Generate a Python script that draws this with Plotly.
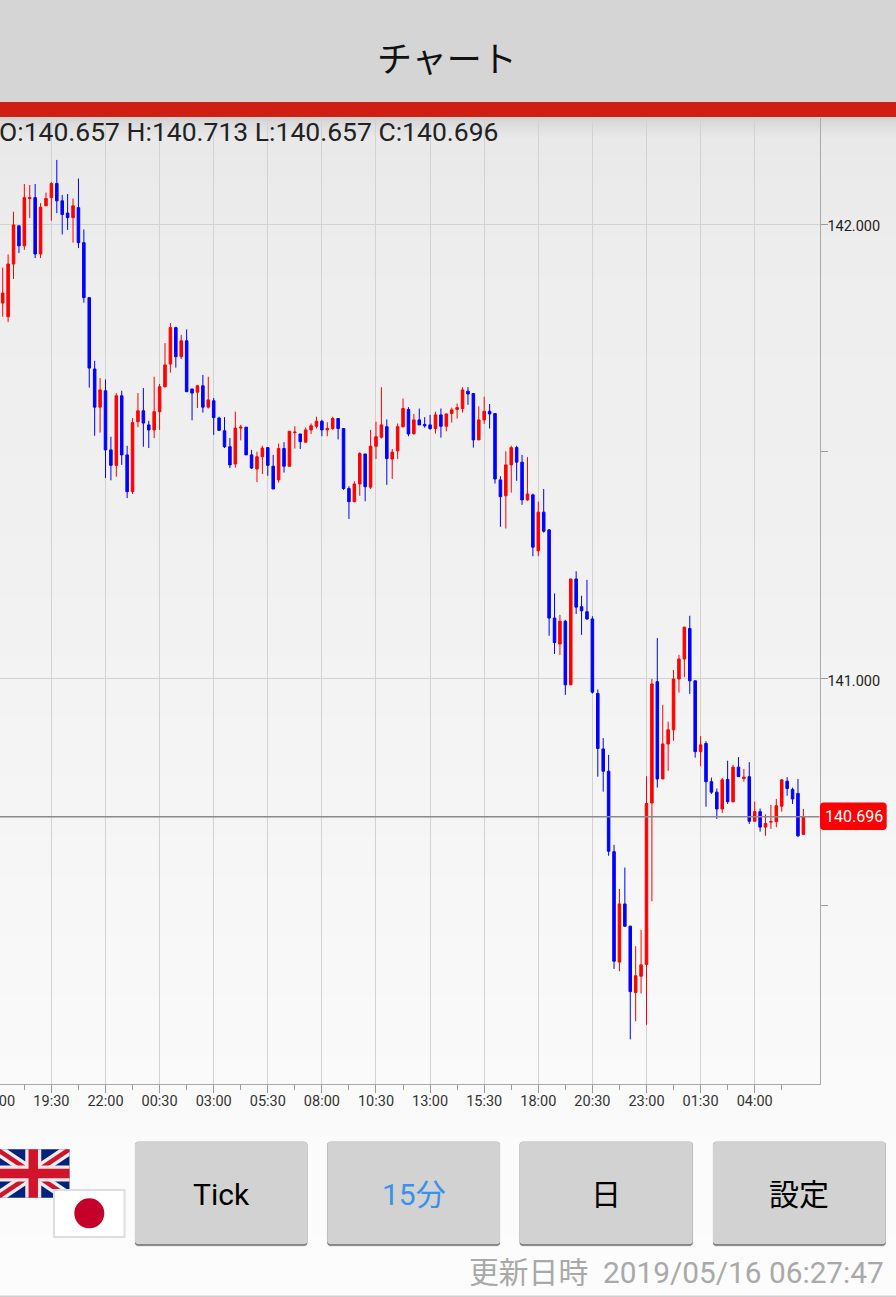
import plotly.graph_objects as go

W, H = 896, 1297
opens = [141.826,141.796,141.912,141.996,141.952,142.056,142.058,141.934,142.040,142.058,
142.089,142.051,142.024,142.014,142.036,141.959,141.838,141.681,141.597,141.633,
141.503,141.469,141.622,141.492,141.411,141.565,141.589,141.558,141.547,141.587,
141.642,141.692,141.772,141.708,141.743,141.637,141.630,141.644,141.597,141.611,
141.573,141.545,141.510,141.472,141.551,141.553,141.492,141.461,141.488,141.508,
141.467,141.437,141.506,141.467,141.541,141.538,141.520,141.547,141.555,141.566,
141.547,141.550,141.572,141.550,141.418,141.389,141.428,141.494,141.421,141.511,
141.531,141.554,141.483,141.501,141.554,141.592,141.539,141.569,141.559,141.558,
141.550,141.580,141.555,141.583,141.592,141.594,141.632,141.627,141.525,141.569,
141.588,141.583,141.437,141.402,141.470,141.508,141.476,141.393,141.404,141.281,
141.366,141.327,141.133,141.076,141.126,140.986,141.219,141.158,141.147,141.131,
140.967,140.845,140.796,140.619,140.376,140.504,140.455,140.309,140.345,140.371,
140.726,140.993,140.779,140.856,140.887,140.999,141.043,141.110,140.995,140.839,
140.857,140.773,140.750,140.713,140.778,140.729,140.805,140.780,140.784,140.686,
140.707,140.673,140.684,140.685,140.719,140.774,140.756,140.747,140.657]
highs = [141.904,141.933,142.027,141.996,142.088,142.086,142.088,142.046,142.069,142.092,
142.141,142.064,142.066,142.056,142.100,141.988,141.838,141.699,141.661,141.658,
141.532,141.628,141.633,141.512,141.573,141.628,141.639,141.567,141.664,141.648,
141.738,141.782,141.774,141.756,141.768,141.637,141.646,141.668,141.664,141.617,
141.576,141.575,141.529,141.587,141.558,141.553,141.503,141.499,141.512,141.508,
141.492,141.517,141.520,141.544,141.555,141.538,141.552,141.561,141.576,141.569,
141.564,141.576,141.572,141.550,141.423,141.434,141.498,141.494,141.547,141.565,
141.641,141.570,141.505,141.561,141.616,141.597,141.582,141.594,141.575,141.580,
141.587,141.594,141.583,141.596,141.605,141.641,141.641,141.627,141.599,141.620,
141.604,141.583,141.445,141.500,141.512,141.512,141.492,141.487,141.407,141.389,
141.417,141.329,141.187,141.140,141.129,141.219,141.236,141.182,141.217,141.137,
140.976,140.869,140.832,140.634,140.537,140.584,140.456,140.411,140.447,140.785,
140.999,141.089,140.942,140.905,141.019,141.052,141.114,141.138,140.995,140.873,
140.862,140.782,140.758,140.781,140.819,140.810,140.827,140.801,140.816,140.729,
140.714,140.701,140.722,140.735,140.778,140.783,140.760,140.779,140.713]
lows = [141.796,141.784,141.879,141.936,141.943,142.013,141.925,141.925,142.040,142.007,
142.024,141.977,141.987,141.959,141.947,141.827,141.640,141.534,141.541,141.441,
141.436,141.444,141.470,141.397,141.406,141.553,141.510,141.507,141.529,141.547,
141.640,141.673,141.684,141.703,141.631,141.568,141.595,141.585,141.594,141.536,
141.546,141.507,141.463,141.464,141.524,141.492,141.461,141.432,141.450,141.446,
141.417,141.431,141.453,141.467,141.506,141.505,141.519,141.538,141.550,141.533,
141.533,141.547,141.526,141.415,141.351,141.388,141.402,141.390,141.417,141.483,
141.528,141.426,141.439,141.483,141.552,141.533,141.536,141.558,141.552,141.547,
141.539,141.530,141.544,141.563,141.572,141.585,141.602,141.508,141.525,141.560,
141.550,141.429,141.334,141.330,141.409,141.435,141.382,141.391,141.269,141.269,
141.321,141.094,141.054,141.052,140.964,140.986,141.142,141.096,141.129,140.967,
140.784,140.751,140.610,140.361,140.356,140.454,140.206,140.246,140.307,140.238,
140.510,140.760,140.779,140.797,140.863,140.969,141.003,140.966,140.826,140.807,
140.718,140.746,140.691,140.704,140.724,140.727,140.784,140.773,140.680,140.685,
140.663,140.654,140.669,140.673,140.707,140.742,140.724,140.651,140.657]
closes = [141.848,141.912,141.998,141.952,142.058,142.058,141.934,142.037,142.056,142.089,
142.051,142.021,142.014,142.040,141.959,141.838,141.683,141.597,141.635,141.503,
141.469,141.622,141.492,141.411,141.563,141.589,141.562,141.547,141.587,141.642,
141.690,141.772,141.708,141.743,141.631,141.628,141.644,141.597,141.613,141.574,
141.546,141.510,141.470,141.551,141.553,141.492,141.463,141.488,141.507,141.469,
141.417,141.506,141.467,141.544,141.542,141.521,141.547,141.556,141.566,141.547,
141.550,141.572,141.550,141.418,141.389,141.428,141.495,141.422,141.511,141.532,
141.558,141.484,141.498,141.554,141.594,141.538,141.569,141.558,141.556,141.550,
141.580,141.555,141.582,141.591,141.596,141.635,141.626,141.525,141.569,141.588,
141.582,141.439,141.400,141.470,141.508,141.476,141.393,141.406,141.289,141.366,
141.324,141.133,141.079,141.126,140.986,141.219,141.157,141.149,141.131,140.970,
140.846,140.796,140.620,140.378,140.504,140.455,140.311,140.346,140.370,140.725,
140.988,140.779,140.856,140.887,140.999,141.043,141.113,140.995,140.839,140.854,
140.773,140.750,140.713,140.777,140.729,140.805,140.784,140.783,140.686,140.707,
140.673,140.681,140.685,140.720,140.777,140.758,140.735,140.654,140.696]
candle_index = list(range(len(opens)))

x_tick_index = [9, 19, 29, 39, 49, 59, 69, 79, 89, 99, 109, 119, 129, 139]
x_tick_labels = ["19:30", "22:00", "00:30", "03:00", "05:30", "08:00", "10:30",
                 "13:00", "15:30", "18:00", "20:30", "23:00", "01:30", "04:00"]
x_minor_index = [4, 14, 24, 34, 44, 54, 64, 74, 84, 94, 104, 114, 124, 134, 144]
y_tick_values = [142.0, 141.0]
y_tick_labels = ["142.000", "141.000"]
y_minor_values = [141.5, 140.5]
last_price = 140.696
clipped_left_label = "17:00"
header_title = "チャート"
ohlc_text = "O:140.657 H:140.713 L:140.657 C:140.696"
updated_text = "更新日時\u00a0\u00a02019/05/16 06:27:47"
buttons = [("Tick", 135, 307.3, "#000000"), ("15分", 327.3, 500, "#3a90ea"),
           ("日", 519.7, 692.7, "#000000"), ("設定", 713, 885.7, "#000000")]

PLOT_R, PLOT_T, PLOT_B = 819.5, 118, 1084
LATIN = "Roboto, 'Noto Sans CJK JP', sans-serif"
CJK = "'Noto Sans CJK JP', Roboto, sans-serif"

def px(x):
    return x / W
def py(y):
    return 1 - y / H

shapes = []
def rect(x0, y0, x1, y1, color, layer="below", line=None):
    shapes.append(dict(type="rect", xref="paper", yref="paper", x0=px(x0), x1=px(x1),
                       y0=py(y0), y1=py(y1), fillcolor=color, layer=layer,
                       line=dict(width=line[0], color=line[1]) if line else dict(width=0)))
def poly(points, color, layer="below"):
    path = "M " + " L ".join(f"{px(a):.5f},{py(b):.5f}" for a, b in points) + " Z"
    shapes.append(dict(type="path", xref="paper", yref="paper", path=path, fillcolor=color,
                       layer=layer, line=dict(width=0)))
def round_rect(x0, y0, x1, y1, r, color, layer="below"):
    k = r * 0.45
    path = (f"M {px(x0+r)},{py(y0)} L {px(x1-r)},{py(y0)} "
            f"C {px(x1-k)},{py(y0)} {px(x1)},{py(y0+k)} {px(x1)},{py(y0+r)} "
            f"L {px(x1)},{py(y1-r)} C {px(x1)},{py(y1-k)} {px(x1-k)},{py(y1)} {px(x1-r)},{py(y1)} "
            f"L {px(x0+r)},{py(y1)} C {px(x0+k)},{py(y1)} {px(x0)},{py(y1-k)} {px(x0)},{py(y1-r)} "
            f"L {px(x0)},{py(y0+r)} C {px(x0)},{py(y0+k)} {px(x0+k)},{py(y0)} {px(x0+r)},{py(y0)} Z")
    shapes.append(dict(type="path", xref="paper", yref="paper", path=path, fillcolor=color,
                       layer=layer, line=dict(width=0)))

# page background gradient (piecewise stops: page y, grey level)
grad = [(117, 232), (224, 236), (300, 238), (500, 240), (800, 245), (1084, 250), (1297, 252)]
def level(y):
    for (a, ga), (b, gb) in zip(grad, grad[1:]):
        if y <= b:
            return ga + (gb - ga) * (y - a) / (b - a)
    return grad[-1][1]
band = 20
y = 117
while y < H:
    g = round(level(y + band / 2))
    rect(0, y, W, min(y + band + 0.5, H), f"rgb({g},{g},{g})")
    y += band
# shadow below red bar
for k in range(10):
    a = 0.09 * (1 - k / 10) ** 1.5
    rect(0, 117 + k * 2, W, 119 + k * 2, f"rgba(0,0,0,{a:.3f})")
# header
rect(0, 0, W, 102, "#d5d5d5")
rect(0, 102, W, 117, "#cf1f12")
# bottom rule
rect(0, 1295.5, W, 1297, "#cfcfcf")

# buttons
for _, x0, x1, _c in buttons:
    round_rect(x0 - 0.5, 1142.5, x1 + 0.5, 1247, 3, "#ececec")
    round_rect(x0, 1141.7, x1, 1245.8, 3, "#6e6e6e")
    round_rect(x0, 1141.7, x1, 1244.3, 3, "#d2d2d2")

# UK flag
fx0, fy0, fx1, fy1 = -3, 1149.3, 69.5, 1197.7
cx, cy = (fx0 + fx1) / 2, (fy0 + fy1) / 2
rect(fx0, fy0, fx1, fy1, "#00247d")
def diag(dx, dy, color):
    poly([(fx0, fy0), (fx0 + dx, fy0), (fx1, fy1 - dy), (fx1, fy1), (fx1 - dx, fy1), (fx0, fy0 + dy)], color)
    poly([(fx1, fy0), (fx1 - dx, fy0), (fx0, fy1 - dy), (fx0, fy1), (fx0 + dx, fy1), (fx1, fy0 + dy)], color)
diag(10, 6.7, "#f4eeee")
diag(4, 2.7, "#cf142b")
rect(cx - 8, fy0, cx + 8, fy1, "#f4e6e6")
rect(fx0, cy - 8, fx1, cy + 8, "#f4e6e6")
rect(cx - 4.7, fy0, cx + 4.7, fy1, "#cf142b")
rect(fx0, cy - 4.7, fx1, cy + 4.7, "#cf142b")
# JP flag
rect(54, 1190, 124.5, 1237, "#ffffff", line=(2, "#dedede"))
shapes.append(dict(type="circle", xref="paper", yref="paper", x0=px(74.3), x1=px(104.3),
                   y0=py(1198.3), y1=py(1228.3), fillcolor="#c4002b", layer="below", line=dict(width=0)))

# current price line and tag
shapes.append(dict(type="line", xref="paper", yref="y", x0=0, x1=px(PLOT_R), y0=last_price, y1=last_price,
                   line=dict(color="#8a8a8a", width=1.5), layer="above"))
round_rect(820, 802.5, 886.7, 830, 3.5, "#ff0000", layer="above")

annotations = []
def text(x, y, s, size, color, family=LATIN, anchor="center"):
    annotations.append(dict(xref="paper", yref="paper", x=px(x), y=py(y), text=s, showarrow=False,
                            xanchor=anchor, yanchor="middle", font=dict(size=size, color=color, family=family),
                            borderpad=0, borderwidth=0))
text(446.5, 56.5, header_title, 35, "#111111", CJK)
text(-1.5, 132, ohlc_text, 26.5, "#222222", LATIN, "left")
text(-2.7, 1101, clipped_left_label, 14.5, "#333333")
text(853.5, 816.5, f"{last_price:.3f}", 16, "#ffffff")
for label, x0, x1, color in buttons:
    if label == "Tick" or label == "15分":
        text((x0 + x1) / 2, 1194, label, 30, color, LATIN)
    else:
        text((x0 + x1) / 2, 1191.5, label, 30, color, CJK)
text(884, 1272, updated_text, 29.8, "#a9a9a9", LATIN, "right")

fig = go.Figure(go.Candlestick(
    x=candle_index, open=opens, high=highs, low=lows, close=closes,
    increasing=dict(line=dict(color="#ff0000", width=1), fillcolor="#ff0000"),
    decreasing=dict(line=dict(color="#0000ff", width=1), fillcolor="#0000ff"),
    whiskerwidth=0, hoverinfo="skip"))

x_lo = (0 - 2.7) / 5.41
x_hi = (PLOT_R - 2.7) / 5.41
y_hi = 142 + (224 - PLOT_T) / 454.5
y_lo = 142 - (PLOT_B - 224) / 454.5

fig.update_layout(
    width=W, height=H, margin=dict(l=0, r=0, t=0, b=0, pad=0, autoexpand=False),
    paper_bgcolor="rgba(0,0,0,0)", plot_bgcolor="rgba(0,0,0,0)",
    showlegend=False, boxgap=0.33, shapes=shapes, annotations=annotations, dragmode=False,
    xaxis=dict(domain=[0, PLOT_R / W], range=[x_lo, x_hi], rangeslider=dict(visible=False),
               tickmode="array", tickvals=x_tick_index, ticktext=x_tick_labels,
               ticks="outside", ticklen=8, tickwidth=1, tickcolor="#999999",
               tickfont=dict(family=LATIN, size=14.5, color="#333333"),
               showgrid=True, gridcolor="#d2d2d2", gridwidth=1, zeroline=False,
               showline=True, linecolor="#aaaaaa", linewidth=1, ticklabelstandoff=-4,
               minor=dict(tickmode="array", tickvals=x_minor_index, ticks="outside", ticklen=5,
                          tickcolor="#999999", showgrid=False)),
    yaxis=dict(domain=[1 - PLOT_B / H, 1 - PLOT_T / H], range=[y_lo, y_hi], side="right",
               tickmode="array", tickvals=y_tick_values, ticktext=y_tick_labels,
               ticks="outside", ticklen=7, tickwidth=1, tickcolor="#999999",
               tickfont=dict(family=LATIN, size=14.5, color="#222222"),
               showgrid=True, gridcolor="#d2d2d2", gridwidth=1, zeroline=False,
               showline=True, linecolor="#aaaaaa", linewidth=1, ticklabelstandoff=-3, ticklabelshift=2,
               minor=dict(tickmode="array", tickvals=y_minor_values, ticks="outside", ticklen=7,
                          tickcolor="#999999", showgrid=False)),
)

fig.write_html("out.html", config=dict(displayModeBar=False, responsive=False),
               post_script="document.body.style.margin='0';document.body.style.overflow='hidden';")
